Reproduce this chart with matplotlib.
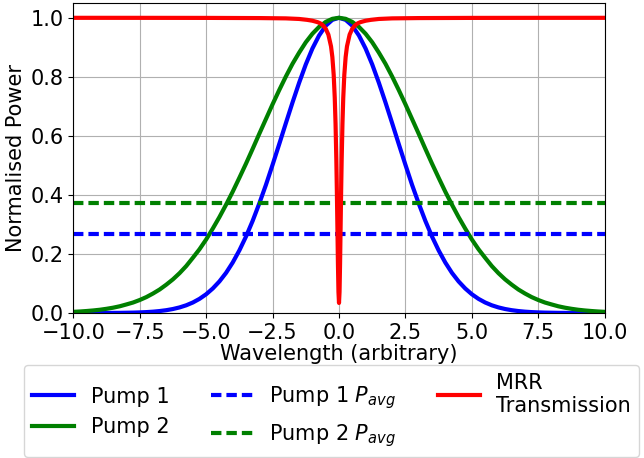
import matplotlib
matplotlib.use('Agg')
import matplotlib.pyplot as plt
import numpy as np

# values (symmetric curves, positive half listed)
x_half = [0.0, 0.25, 0.5, 0.75, 1.0, 1.25, 1.5, 1.75, 2.0, 2.25, 2.5,
          2.75, 3.0, 3.25, 3.5, 3.75, 4.0, 4.25, 4.5, 4.75, 5.0,
          5.25, 5.5, 5.75, 6.0, 6.25, 6.5, 6.75, 7.0, 7.25, 7.5,
          7.75, 8.0, 8.25, 8.5, 8.75, 9.0, 9.25, 9.5, 9.75, 10.0]
pump1_half = [1.0, 0.993, 0.973, 0.940, 0.896, 0.842, 0.780, 0.713, 0.643, 0.572, 0.502,
              0.434, 0.371, 0.312, 0.259, 0.212, 0.171, 0.136, 0.107, 0.0831, 0.0635,
              0.0479, 0.0356, 0.0261, 0.0189, 0.0135, 0.0095, 0.0066, 0.0045, 0.0030, 0.0020,
              0.0013, 0.0009, 0.0005, 0.0004, 0.0002, 0.0001, 0.0001, 0.00005, 0.00003, 0.00002]
pump2_half = [1.0, 0.9965, 0.986, 0.969, 0.946, 0.917, 0.882, 0.844, 0.801, 0.755, 0.707,
              0.657, 0.607, 0.556, 0.506, 0.458, 0.411, 0.367, 0.325, 0.286, 0.249,
              0.216, 0.187, 0.159, 0.135, 0.114, 0.096, 0.0796, 0.066, 0.0539, 0.044,
              0.0355, 0.029, 0.0228, 0.018, 0.0142, 0.011, 0.0086, 0.0067, 0.0051, 0.0039]
x_pump = [-v for v in x_half[::-1]] + x_half[1:]
pump1 = pump1_half[::-1] + pump1_half[1:]
pump2 = pump2_half[::-1] + pump2_half[1:]

pump1_avg = 0.266
pump2_avg = 0.372

x_mrr_half = [0.0, 0.02, 0.04, 0.06, 0.08, 0.1, 0.13, 0.16, 0.2, 0.25, 0.3,
              0.4, 0.5, 0.6, 0.7, 0.8, 1.0, 1.2, 1.5, 2.0, 3.0, 5.0, 7.5, 10.0]
mrr_half = [0.034, 0.071, 0.167, 0.290, 0.411, 0.517, 0.641, 0.729, 0.807, 0.867, 0.903,
            0.943, 0.963, 0.974, 0.981, 0.985, 0.990, 0.993, 0.996, 0.998, 0.999,
            0.9996, 0.9998, 0.9999]
x_mrr = [-v for v in x_mrr_half[::-1]] + x_mrr_half[1:]
mrr = mrr_half[::-1] + mrr_half[1:]

fs = 15
fig = plt.figure(figsize=(6.44, 4.58), dpi=100)
ax = fig.add_axes([0.1138, 0.3166, 0.8252, 0.6768])

dash = (0, (2.5, 1.2))
ax.plot(x_pump, pump1, color='blue', lw=3, label='Pump 1')
ax.plot(x_pump, pump2, color='green', lw=3, label='Pump 2')
ax.plot([-10, 10], [pump1_avg, pump1_avg], color='blue', lw=3, ls=dash, label='Pump 1 $P_{avg}$')
ax.plot([-10, 10], [pump2_avg, pump2_avg], color='green', lw=3, ls=dash, label='Pump 2 $P_{avg}$')
ax.plot(x_mrr, mrr, color='red', lw=3, label='MRR\nTransmission')

ax.set_xlim(-10, 10)
ax.set_ylim(0, 1.05)
ax.grid(True)
ax.set_xlabel('Wavelength (arbitrary)', fontsize=fs, labelpad=1)
ax.set_ylabel('Normalised Power', fontsize=fs, labelpad=3)
ax.tick_params(labelsize=fs)

fig.legend(loc='center', bbox_to_anchor=(0.515, 0.103), ncol=3, fontsize=fs)

fig.savefig('out.png', dpi=100)
